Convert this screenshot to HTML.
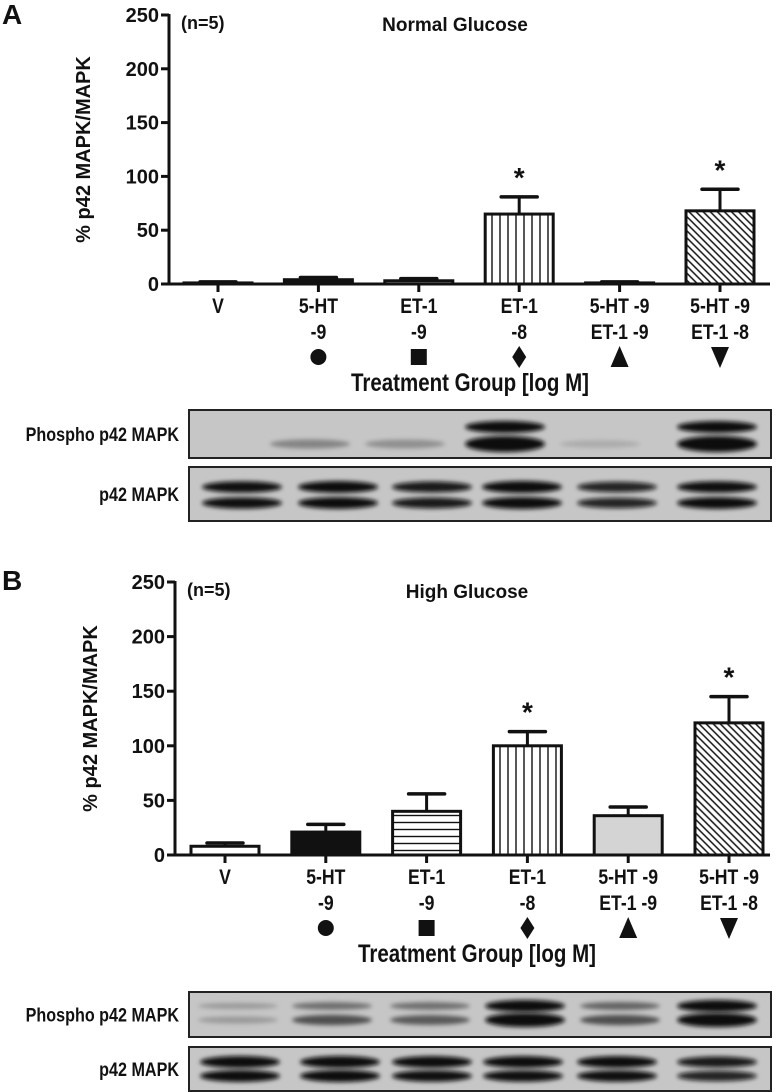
<!DOCTYPE html>
<html><head><meta charset="utf-8">
<style>
html,body{margin:0;padding:0;background:#fff;}
svg{display:block;}
text{font-family:"Liberation Sans",Arial,sans-serif;font-weight:bold;fill:#111;}
</style></head>
<body>
<svg id="fig" width="781" height="1092" viewBox="0 0 781 1092" xmlns="http://www.w3.org/2000/svg">
<defs>
<pattern id="pH" width="6" height="7" patternUnits="userSpaceOnUse"><rect width="6" height="7" fill="#fff"/><line x1="0" y1="3.5" x2="6" y2="3.5" stroke="#111" stroke-width="1.4"/></pattern>
<pattern id="pV" width="8" height="6" patternUnits="userSpaceOnUse"><rect width="8" height="6" fill="#fff"/><line x1="4" y1="0" x2="4" y2="6" stroke="#111" stroke-width="1.4"/></pattern>
<pattern id="pD" width="5" height="5" patternUnits="userSpaceOnUse" patternTransform="rotate(45)"><rect width="5" height="5" fill="#fff"/><line x1="0" y1="2.5" x2="5" y2="2.5" stroke="#111" stroke-width="1.5"/></pattern>
<filter id="blur" x="-20%" y="-100%" width="140%" height="300%"><feGaussianBlur stdDeviation="2.2"/></filter>
</defs>
</svg>
<script>
// ---- data ----
const categories = ["V","5-HT -9","ET-1 -9","ET-1 -8","5-HT -9 / ET-1 -9","5-HT -9 / ET-1 -8"];
const labelLine1 = ["V","5-HT","ET-1","ET-1","5-HT -9","5-HT -9"];
const labelLine2 = ["","-9","-9","-8","ET-1 -9","ET-1 -8"];
const normalMeans = [1, 4, 3, 65, 1, 68];
const normalErrors = [1, 2, 2, 16, 1, 20];
const highMeans = [8, 21, 40, 100, 36, 121];
const highErrors = [3, 7, 16, 13, 8, 24];
const significantA = [false,false,false,true,false,true];
const significantB = [false,false,false,true,false,true];
const yTicks = [0,50,100,150,200,250];
const fills = ["#fff","#111","url(#pH)","url(#pV)","#d4d4d4","url(#pD)"];
const phosphoAUpper = [0,0,0,1.0,0,0.95];
const phosphoALower = [0,0.3,0.25,1.0,0.12,1.0];
const phosphoBUpper = [0.2,0.4,0.4,1.0,0.45,1.0];
const phosphoBLower = [0.2,0.55,0.5,1.0,0.55,1.0];
const totalAUpper = [0.9,0.95,0.85,1.0,0.8,0.9];
const totalALower = [0.9,0.95,0.85,1.0,0.8,0.95];
const totalBUpper = [1.0,1.0,0.95,0.95,0.95,0.85];
const totalBLower = [0.95,1.0,0.9,0.9,0.9,0.8];

const NS="http://www.w3.org/2000/svg";
const svg=document.getElementById('fig');
function mk(tag,attrs,parent,txt){const e=document.createElementNS(NS,tag);for(const k in attrs)e.setAttribute(k,attrs[k]);if(txt!==undefined)e.textContent=txt;(parent||svg).appendChild(e);return e;}
function ntext(x,y,size,anchor,txt,parent,sx){return mk('text',{x:0,y:0,'font-size':size,'text-anchor':anchor,transform:`translate(${x},${y}) scale(${sx||0.84},1)`},parent,txt);}

function drawPanel(o){
  const g=mk('g',{});
  
  
  const y=v=>o.zero-(v/250)*(o.zero-o.top);
  const x=i=>o.x0+i*o.step;
  const letter=mk('text',{x:2,y:o.letterY,'font-size':28},g,o.letter);
  
  
  const ax=mk('line',{x1:o.axX,y1:o.top-1,x2:o.axX,y2:o.zero+1,stroke:'#111','stroke-width':3},g);
  
  
  const xa=mk('line',{x1:o.axX-1,y1:o.zero,x2:770,y2:o.zero,stroke:'#111','stroke-width':3},g);
  
  
  yTicks.forEach(t=>{
    mk('line',{x1:o.axX-8,y1:y(t),x2:o.axX,y2:y(t),stroke:'#111','stroke-width':3},g);
    const tl=mk('text',{x:o.axX-10,y:y(t)+7,'font-size':20,'text-anchor':'end'},g,String(t));
    
    
  });
  const yl=mk('text',{x:0,y:0,'font-size':20,'text-anchor':'middle',transform:`translate(${o.ylX},${(o.top+o.zero)/2}) rotate(-90)`},g,'% p42 MAPK/MAPK');
  
  
  const n=mk('text',{x:o.axX+12,y:o.top+14,'font-size':18},g,'(n=5)');
  
  
  const tt=mk('text',{x:o.titleX,y:o.top+16,'font-size':19,'text-anchor':'middle'},g,o.title);
  
  
  const bw=68;
  categories.forEach((c,i)=>{
    const cx=x(i),v=o.means[i],e=o.errs[i];
    const el=mk('line',{x1:cx,y1:y(v),x2:cx,y2:y(v+e),stroke:'#111','stroke-width':3},g);
    
    
    mk('line',{x1:cx-18,y1:y(v+e),x2:cx+18,y2:y(v+e),stroke:'#111','stroke-width':3.5,'stroke-linecap':'round'},g);
    const h=Math.max(o.zero-y(v),1);
    const b=mk('rect',{x:cx-bw/2,y:o.zero-h,width:bw,height:h,fill:fills[i],stroke:'#111','stroke-width':3},g);
    
    
    if(o.sig[i]){
      const s=mk('text',{x:cx,y:y(v+e)-10,'font-size':28,'text-anchor':'middle','font-weight':'normal'},g,'*');
      
      
    }
    mk('line',{x1:cx,y1:o.zero,x2:cx,y2:o.zero+8,stroke:'#111','stroke-width':3},g);
    const l1=ntext(cx,o.zero+29,21,'middle',labelLine1[i],g);
    
    
    if(labelLine2[i]){const l2=ntext(cx,o.zero+55,21,'middle',labelLine2[i],g);
      
      }
    const sy=o.zero+73;
    let sh=null;
    if(i===1) sh=mk('circle',{cx:cx,cy:sy,r:8,fill:'#111'},g);
    if(i===2) sh=mk('rect',{x:cx-8,y:sy-8,width:16,height:16,fill:'#111'},g);
    if(i===3) sh=mk('polygon',{points:`${cx},${sy-11} ${cx+7},${sy} ${cx},${sy+11} ${cx-7},${sy}`,fill:'#111'},g);
    if(i===4) sh=mk('polygon',{points:`${cx},${sy-11} ${cx+9},${sy+10} ${cx-9},${sy+10}`,fill:'#111'},g);
    if(i===5) sh=mk('polygon',{points:`${cx-9},${sy-10} ${cx+9},${sy-10} ${cx},${sy+11}`,fill:'#111'},g);
    if(sh){}
  });
  const xt=ntext(o.tgX,o.zero+107,25,'middle','Treatment Group [log M]',g,0.82);
  
  
}

function drawBlot(o){
  const g=mk('g',{});
  
  
  mk('rect',{x:189,y:o.y1,width:582,height:o.y2-o.y1,fill:'#c6c6c6',stroke:'#222','stroke-width':2},g);
  const lab=ntext(179,(o.y1+o.y2)/2+7,19,'end',o.label,g,0.85);
  
  
  o.lanes.forEach((cx,i)=>{
    [[o.b1,o.up[i],o.h1],[o.b2,o.lo[i],o.h2]].forEach(([by,a,hh])=>{
      if(a<=0) return;
      const ry=hh*(0.4+0.6*a);
      const band=mk('ellipse',{cx:cx,cy:by,rx:40,ry:ry,fill:'#0a0a0a','fill-opacity':Math.min(1,a*1.1),filter:'url(#blur)'},g);
      
      
    });
  });
}

drawPanel({name:'panel-a-normal-glucose',letter:'A',letterY:24,top:15,zero:284,axX:169,x0:218,step:100.4,ylX:90,titleX:455,title:'Normal  Glucose',means:normalMeans,errs:normalErrors,sig:significantA,tgX:470});
drawPanel({name:'panel-b-high-glucose',letter:'B',letterY:590,top:582,zero:855,axX:175,x0:225,step:100.8,ylX:97,titleX:467,title:'High Glucose',means:highMeans,errs:highErrors,sig:significantB,tgX:477});

drawBlot({name:'blot-a-phospho',label:'Phospho p42 MAPK',y1:410,y2:458,b1:427,b2:444,h1:6,h2:8,lanes:[240,310,405,505,600,717],up:phosphoAUpper,lo:phosphoALower});
drawBlot({name:'blot-a-total',label:'p42 MAPK',y1:467,y2:521,b1:487,b2:503,h1:6,h2:6,lanes:[242,338,432,522,617,717],up:totalAUpper,lo:totalALower});
drawBlot({name:'blot-b-phospho',label:'Phospho p42 MAPK',y1:992,y2:1037,b1:1006,b2:1020,h1:6,h2:7,lanes:[238,332,430,525,620,717],up:phosphoBUpper,lo:phosphoBLower});
drawBlot({name:'blot-b-total',label:'p42 MAPK',y1:1047,y2:1091,b1:1062,b2:1076,h1:6,h2:6,lanes:[240,340,432,523,617,717],up:totalBUpper,lo:totalBLower});
</script>
</body></html>
